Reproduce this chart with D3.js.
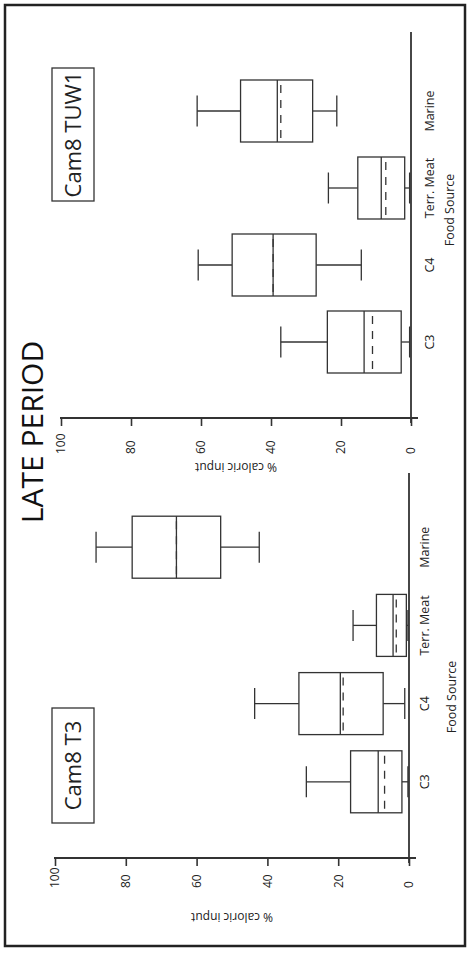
<!DOCTYPE html>
<html><head><meta charset="utf-8">
<script src="https://cdn.jsdelivr.net/npm/d3@7"></script>
<style>body{margin:0;background:#fff}svg{display:block}</style>
</head><body>
<svg id="c" width="469" height="955"></svg>
<script>
const categories = ["C3", "C4", "Terr. Meat", "Marine"];
const yTicks = [0, 20, 40, 60, 80, 100];

// Cam8 T3
const t3Max    = [29.0, 43.6, 15.8, 88.4];
const t3Q3     = [16.5, 31.1, 9.2, 78.2];
const t3Median = [8.7, 19.4, 4.5, 65.7];
const t3Mean   = [6.9, 18.6, 3.6, 65.7];
const t3Q1     = [2.0, 7.3, 0.75, 53.2];
const t3Min    = [0.3, 1.2, 0.3, 42.3];

// Cam8 TUW1
const tuwMax    = [37.2, 60.8, 23.6, 61.1];
const tuwQ3     = [23.9, 51.1, 15.2, 48.7];
const tuwMedian = [13.4, 39.4, 8.5, 38.2];
const tuwMean   = [11.0, 39.4, 7.2, 37.2];
const tuwQ1     = [2.8, 27.1, 1.8, 28.1];
const tuwMin    = [0.4, 14.2, 0.4, 21.2];

const INK = "#333";
const FONT = "'Open Sans', 'DejaVu Sans', sans-serif";

const svg = d3.select("#c");
svg.append("rect").attr("x", 5).attr("y", 5).attr("width", 460).attr("height", 941)
  .attr("fill", "none").attr("stroke", "#222").attr("stroke-width", 2.5);

// landscape chart drawn in 955x469 coords, rotated -90deg
const g = svg.append("g").attr("transform", "translate(0,955) rotate(-90)");

g.append("text").attr("x", 523).attr("y", 43).attr("text-anchor", "middle")
  .attr("font-family", FONT).attr("font-size", 30).attr("fill", "#111").text("LATE PERIOD");

const panels = [
  { name: "Cam8 T3", ax: 97, axEnd: 482, catRange: [95, 486], yRange: [409, 55],
    tickLabelX: -30, ylabX: 38, fsX: 258, fsY: 452, catY: 425,
    box: [132, 247], data: [t3Max, t3Q3, t3Median, t3Mean, t3Q1, t3Min] },
  { name: "Cam8 TUW1", ax: 537, axEnd: 923, catRange: [536, 921], yRange: [411, 61],
    tickLabelX: -36, ylabX: 488, fsX: 745, fsY: 450, catY: 430,
    box: [754, 887], data: [tuwMax, tuwQ3, tuwMedian, tuwMean, tuwQ1, tuwMin] }
];

panels.forEach(p => {
  const y = d3.scaleLinear().domain([0, 100]).range(p.yRange);
  const x = d3.scalePoint().domain(categories).range(p.catRange).padding(1);
  const pg = g.append("g");

  // value axis
  const ax = pg.append("g").attr("transform", `translate(${p.ax},0)`)
    .call(d3.axisLeft(y).tickValues(yTicks).tickSize(8).tickSizeOuter(0));
  ax.select(".domain").remove();
  ax.selectAll(".tick line").attr("stroke", INK).attr("stroke-width", 1.6);
  ax.selectAll(".tick text").attr("x", p.tickLabelX).attr("text-anchor", "start")
    .attr("font-family", FONT).attr("font-size", 12).attr("fill", "#222");
  pg.append("line").attr("x1", p.ax).attr("x2", p.ax)
    .attr("y1", y(100) - 1).attr("y2", y(0) + 7)
    .attr("stroke", INK).attr("stroke-width", 1.8);

  // category axis
  pg.append("line").attr("x1", p.ax - 5).attr("x2", p.axEnd)
    .attr("y1", y(0)).attr("y2", y(0)).attr("stroke", INK).attr("stroke-width", 1.8);
  categories.forEach(c => {
    pg.append("text").attr("x", x(c)).attr("y", p.catY).attr("dy", "0.35em")
      .attr("text-anchor", "middle").attr("font-family", FONT).attr("font-size", 12.5)
      .attr("fill", "#222").text(c);
  });
  pg.append("text").attr("x", p.fsX).attr("y", p.fsY).attr("dy", "0.35em")
    .attr("text-anchor", "middle").attr("font-family", FONT).attr("font-size", 12.5)
    .attr("fill", "#222").text("Food Source");
  pg.append("text").attr("transform", `translate(${p.ylabX},${(y(0) + y(100)) / 2}) rotate(-90)`)
    .attr("dy", "0.35em").attr("text-anchor", "middle").attr("font-family", FONT)
    .attr("font-size", 12).attr("fill", "#222").text("% caloric input");

  // panel title box
  pg.append("rect").attr("x", p.box[0]).attr("y", 52).attr("width", p.box[1] - p.box[0])
    .attr("height", 42).attr("fill", "none").attr("stroke", INK).attr("stroke-width", 1.3);
  pg.append("text").attr("x", (p.box[0] + p.box[1]) / 2).attr("y", 73).attr("dy", "0.35em")
    .attr("text-anchor", "middle").attr("font-family", FONT).attr("font-size", 22)
    .attr("fill", "#222").text(p.name);

  const [mx, q3, med, mean, q1, mn] = p.data;
  const bw = 62, cw = 31;
  categories.forEach((c, i) => {
    const cx = x(c);
    const bg = pg.append("g").attr("stroke", INK).attr("stroke-width", 1.3).attr("fill", "none");
    bg.append("line").attr("x1", cx).attr("x2", cx).attr("y1", y(q3[i])).attr("y2", y(mx[i]));
    bg.append("line").attr("x1", cx - cw / 2).attr("x2", cx + cw / 2).attr("y1", y(mx[i])).attr("y2", y(mx[i]));
    bg.append("line").attr("x1", cx).attr("x2", cx).attr("y1", y(q1[i])).attr("y2", y(mn[i]));
    bg.append("line").attr("x1", cx - cw / 2).attr("x2", cx + cw / 2).attr("y1", y(mn[i])).attr("y2", y(mn[i]));
    bg.append("rect").attr("x", cx - bw / 2).attr("width", bw)
      .attr("y", y(q3[i])).attr("height", y(q1[i]) - y(q3[i])).attr("fill", "#fff");
    bg.append("line").attr("x1", cx - bw / 2).attr("x2", cx + bw / 2).attr("y1", y(med[i])).attr("y2", y(med[i]));
    bg.append("line").attr("x1", cx - bw / 2 + 4).attr("x2", cx + bw / 2).attr("y1", y(mean[i])).attr("y2", y(mean[i]))
      .attr("stroke-dasharray", "8,7");
  });
});
</script>
</body></html>
